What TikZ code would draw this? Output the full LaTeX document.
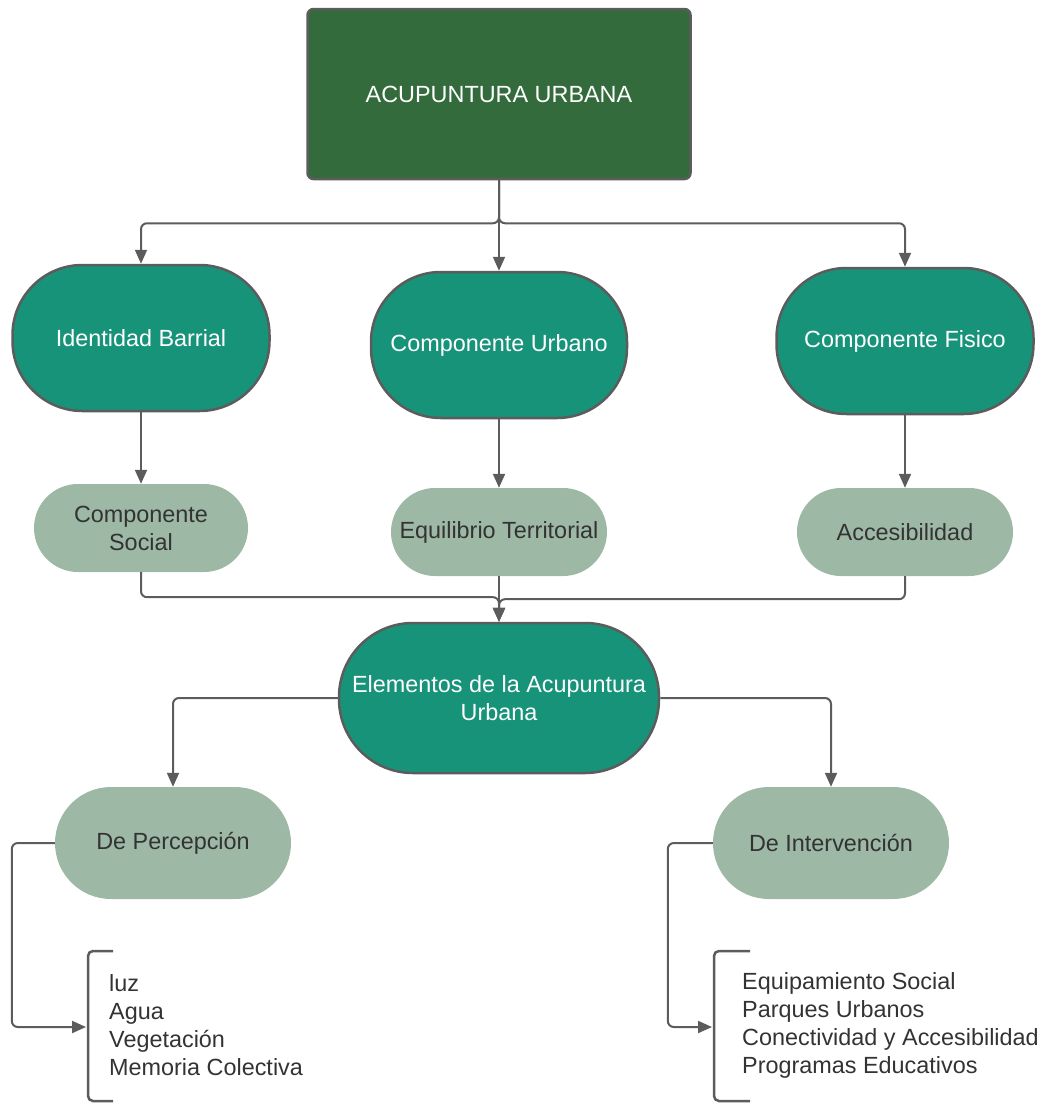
\documentclass[tikz,border=0pt]{standalone}
\usepackage{fontspec}
\setmainfont{Liberation Sans}
\usetikzlibrary{arrows.meta}
\definecolor{dkgreen}{HTML}{346B3C}
\definecolor{teal2}{HTML}{17937A}
\definecolor{sage}{HTML}{9DB8A4}
\definecolor{edge}{HTML}{5C5C5C}
\definecolor{dtext}{HTML}{333333}
\tikzset{
  base/.style={font=\fontsize{23.4}{28}\selectfont, align=center, inner sep=0pt},
  topbox/.style={base, fill=dkgreen, draw=edge, line width=2.5pt, rounded corners=6pt, text=white, minimum width=383pt, minimum height=170pt},
  tealbox/.style={base, fill=teal2, draw=edge, line width=2.5pt, text=white},
  sagebox/.style={base, fill=sage, text=dtext},
  conn/.style={draw=edge, line width=2pt, rounded corners=6pt},
  arr/.style={conn, -{Triangle[length=14pt,width=12pt]}},
  listtext/.style={font=\fontsize{23.4}{28}\selectfont, align=left, inner sep=0pt, text=dtext},
  brk/.style={draw=edge, line width=2.5pt, rounded corners=5pt}
}
\begin{document}
\begin{tikzpicture}[x=1pt,y=-1pt]
\useasboundingbox (0,0) rectangle (1047,1103);
% nodes
\node[topbox] (top) at (499,94) {ACUPUNTURA URBANA};
\node[tealbox, minimum width=257pt, minimum height=146pt, rounded corners=70pt] (ib) at (141,338) {Identidad Barrial};
\node[tealbox, minimum width=256pt, minimum height=146pt, rounded corners=70pt] (cu) at (499,345) {Componente Urbano};
\node[tealbox, minimum width=257pt, minimum height=146pt, rounded corners=70pt] (cf) at (905,341) {Componente Fisico};
\node[sagebox, minimum width=214pt, minimum height=88pt, rounded corners=44pt] (cs) at (141,528) {Componente\\Social};
\node[sagebox, minimum width=216pt, minimum height=88pt, rounded corners=44pt] (et) at (499,532) {Equilibrio Territorial};
\node[sagebox, minimum width=216pt, minimum height=88pt, rounded corners=44pt] (ac) at (905,532) {Accesibilidad};
\node[tealbox, minimum width=320pt, minimum height=150pt, rounded corners=74pt] (el) at (499,698) {Elementos de la Acupuntura\\Urbana};
\node[sagebox, minimum width=236pt, minimum height=112pt, rounded corners=56pt] (dp) at (173,843) {De Percepción};
\node[sagebox, minimum width=236pt, minimum height=112pt, rounded corners=56pt] (di) at (831,843) {De Intervención};
\node[listtext, anchor=west] (l1) at (109,1025) {luz\\Agua\\Vegetación\\Memoria Colectiva};
\node[listtext, anchor=west] (l2) at (742,1025) {Equipamiento Social\\Parques Urbanos\\Conectividad y Accesibilidad\\Programas Educativos};
% brackets
\draw[brk] (113,951) -- (88,951) -- (88,1101) -- (113,1101);
\draw[brk] (750,951) -- (714,951) -- (714,1101) -- (750,1101);
\coordinate (lb) at (86,1027);
\coordinate (rb) at (712,1027);
% connectors
\draw[arr] (top.south) -- ++(0,43) -| (ib.north);
\draw[arr] (top.south) -- ++(0,43) -| (cf.north);
\draw[arr] (top.south) -- (cu.north);
\draw[arr] (ib.south) -- (cs.north);
\draw[arr] (cu.south) -- (et.north);
\draw[arr] (cf.south) -- (ac.north);
\draw[arr] (cs.south) -- ++(0,25) -| (el.north);
\draw[arr] (ac.south) -- ++(0,23) -| (el.north);
\draw[arr] (et.south) -- (el.north);
\draw[arr] (el.west) -| (dp.north);
\draw[arr] (el.east) -| (di.north);
\draw[arr] (dp.west) -- ++(-43,0) |- (lb);
\draw[arr] (di.west) -- ++(-45,0) |- (rb);
\end{tikzpicture}
\end{document}
